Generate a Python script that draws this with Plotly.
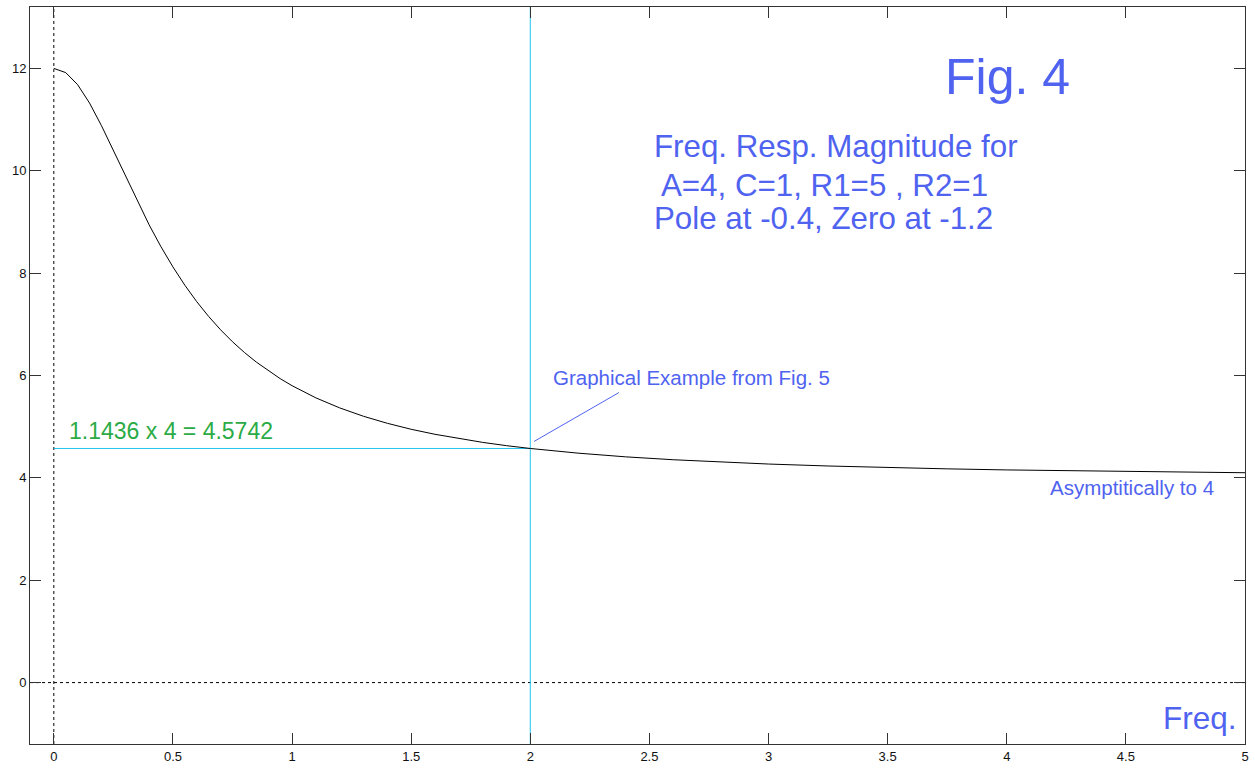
import plotly.graph_objects as go

# Frequency response magnitude
freq = [0, 0.05, 0.1, 0.15, 0.2, 0.25, 0.3, 0.35, 0.4, 0.45, 0.5, 0.55, 0.6, 0.65, 0.7,
        0.75, 0.8, 0.85, 0.9, 0.95, 1.0, 1.1, 1.2, 1.3, 1.4, 1.5, 1.6, 1.7, 1.8, 1.9,
        2.0, 2.2, 2.4, 2.6, 2.8, 3.0, 3.25, 3.5, 3.75, 4.0, 4.25, 4.5, 4.75, 5.0]
magnitude = [12.0, 11.918, 11.682, 11.323, 10.881, 10.394, 9.895, 9.407, 8.944, 8.514,
             8.121, 7.764, 7.442, 7.153, 6.893, 6.659, 6.450, 6.262, 6.092, 5.939,
             5.801, 5.563, 5.367, 5.203, 5.066, 4.949, 4.851, 4.766, 4.693, 4.629,
             4.574, 4.483, 4.411, 4.354, 4.308, 4.270, 4.232, 4.201, 4.176, 4.155,
             4.138, 4.123, 4.111, 4.100]

example_freq = 2.0
example_mag = 4.5742

x_ticks = [0, 0.5, 1, 1.5, 2, 2.5, 3, 3.5, 4, 4.5, 5]
x_tick_text = ["0", "0.5", "1", "1.5", "2", "2.5", "3", "3.5", "4", "4.5", "5"]
y_ticks = [0, 2, 4, 6, 8, 10, 12]
y_tick_text = ["0", "2", "4", "6", "8", "10", "12"]

x_range = [-0.1, 5.0]
y_range = [-1.2, 13.2]

BLUE = "#4f63f0"
GREEN = "#2bab45"
CYAN = "#22c4ee"
FONT = "Liberation Sans, Arial, sans-serif"

fig = go.Figure()

# dotted zero axes
fig.add_trace(go.Scatter(x=[0, 0], y=y_range, mode="lines",
                         line=dict(color="black", width=1, dash="dot"),
                         hoverinfo="skip", showlegend=False))
fig.add_trace(go.Scatter(x=x_range, y=[0, 0], mode="lines",
                         line=dict(color="black", width=1, dash="dot"),
                         hoverinfo="skip", showlegend=False))

# cyan guide lines
fig.add_trace(go.Scatter(x=[0, example_freq], y=[example_mag, example_mag], mode="lines",
                         line=dict(color=CYAN, width=1), showlegend=False))
fig.add_trace(go.Scatter(x=[example_freq, example_freq], y=y_range, mode="lines",
                         line=dict(color=CYAN, width=1), showlegend=False))

# magnitude curve
fig.add_trace(go.Scatter(x=freq, y=magnitude, mode="lines",
                         line=dict(color="black", width=1), showlegend=False))

# pointer line
fig.add_trace(go.Scatter(x=[2.016, 2.372], y=[4.712, 5.666], mode="lines",
                         line=dict(color=BLUE, width=1), showlegend=False))

def txt(x, y, s, size, color):
    fig.add_annotation(x=x, y=y, text=s, showarrow=False, xanchor="left", yanchor="middle",
                       font=dict(family=FONT, size=size, color=color), xref="x", yref="y")

txt(3.731, 11.84, "Fig. 4", 50, BLUE)
txt(2.510, 10.48, "Freq. Resp. Magnitude for", 31.3, BLUE)
txt(2.510, 9.72, " A=4, C=1, R1=5 , R2=1", 31.3, BLUE)
txt(2.510, 9.07, "Pole at -0.4, Zero at -1.2", 31.3, BLUE)
txt(2.087, 5.96, "Graphical Example from Fig. 5", 20.5, BLUE)
txt(0.055, 4.91, "1.1436 x 4 = 4.5742", 23, GREEN)
txt(4.172, 3.82, "Asymptitically to 4", 20.5, BLUE)
txt(4.646, -0.70, "Freq.", 31.5, BLUE)

axis_common = dict(showgrid=False, zeroline=False, showline=True, linecolor="#333333",
                   linewidth=1, mirror="ticks", ticks="inside", ticklen=11,
                   tickcolor="#333333", tickwidth=1,
                   tickfont=dict(family=FONT, size=13, color="#111111"))

fig.update_xaxes(range=x_range, tickvals=x_ticks, ticktext=x_tick_text, **axis_common)
fig.update_yaxes(range=y_range, tickvals=y_ticks, ticktext=y_tick_text, **axis_common)

fig.update_layout(width=1255, height=770, plot_bgcolor="white", paper_bgcolor="white",
                  margin=dict(l=30, r=9, t=6, b=25), showlegend=False)

fig.write_html("out.html")
